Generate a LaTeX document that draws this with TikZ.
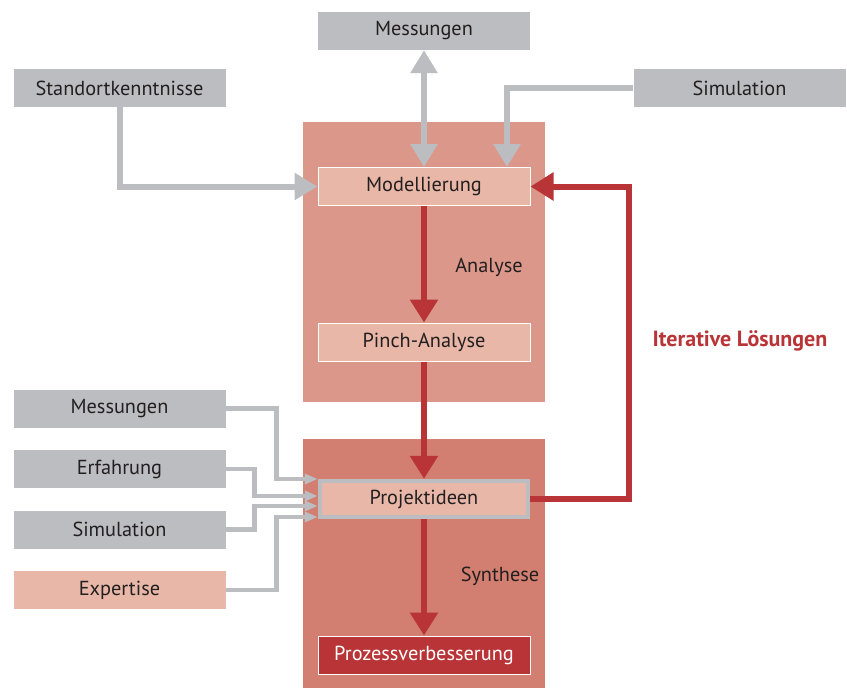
\documentclass[tikz,border=0pt]{standalone}
\usepackage{fontspec}
\setmainfont{PT Sans}
\usetikzlibrary{arrows.meta}
\definecolor{boxgray}{HTML}{BCBDC0}
\definecolor{boxpink}{HTML}{E8B7A8}
\definecolor{analysebg}{HTML}{DB978A}
\definecolor{synthbg}{HTML}{D27E70}
\definecolor{darkred}{HTML}{B93436}
\definecolor{txt}{HTML}{231F20}
\tikzset{
  basebox/.style={rectangle, minimum width=212pt, minimum height=38pt, inner sep=0pt,
    font=\fontsize{20.3}{23}\selectfont, text=txt},
  graybox/.style={basebox, fill=boxgray},
  pinkbox/.style={basebox, fill=boxpink},
  stagebox/.style={basebox, fill=boxpink, draw=white, line width=1pt},
  ideabox/.style={basebox, fill=boxpink, draw=boxgray, line width=4.5pt, minimum width=208pt, minimum height=36pt},
  resultbox/.style={basebox, fill=darkred, draw=white, line width=1pt, text=white},
  grayflow/.style={draw=boxgray, line width=6pt, -{Triangle[length=23pt,width=26pt]}},
  grayboth/.style={draw=boxgray, line width=6pt, {Triangle[length=23pt,width=26pt]}-{Triangle[length=23pt,width=26pt]}},
  grayin/.style={draw=boxgray, line width=4.5pt, -{Triangle[length=13pt,width=10pt]}},
  redflow/.style={draw=darkred, line width=6pt, -{Triangle[length=23pt,width=27pt]}},
  steplabel/.style={font=\fontsize{20.3}{23}\selectfont, text=txt},
}
\begin{document}
\begin{tikzpicture}[x=1pt,y=-1pt]
\useasboundingbox (0,0) rectangle (847,688);

% phase backgrounds
\fill[analysebg] (303,122) rectangle (545,402);
\fill[synthbg] (303,439) rectangle (545,688);

% input boxes
\node[graybox] (mtop) at (424,31) {Messungen};
\node[graybox] (std) at (119.5,88) {Standortkenntnisse};
\node[graybox] (simtop) at (739.5,88) {Simulation};
\node[graybox] (mess) at (119.5,408.5) {Messungen};
\node[graybox] (erf) at (119.5,469) {Erfahrung};
\node[graybox] (sim) at (119.5,529.5) {Simulation};
\node[pinkbox] (exp) at (119.5,590) {Expertise};

% process steps
\node[stagebox] (model) at (424,186.5) {Modellierung};
\node[stagebox] (pinch) at (424,342) {Pinch-Analyse};
\node[ideabox] (proj) at (424,499) {Projektideen};
\node[resultbox] (proz) at (424,655) {Prozessverbesserung};

% phase labels
\node[steplabel] (lana) at (489,267) {Analyse};
\node[steplabel] (lsyn) at (500,576) {Synthese};
\node[font=\bfseries\fontsize{22}{25}\selectfont, text=darkred] (liter) at (740,341) {Iterative Lösungen};

% inputs to the modelling step
\draw[grayboth] (mtop.south) -- (model.north);
\draw[grayflow] (std.south) |- (model.west);
\draw[grayflow] (simtop.west) -| ([xshift=83pt]model.north);

% main chain
\draw[redflow] (model.south) -- (pinch.north);
\draw[redflow] (pinch.south) -- (proj.north);
\draw[redflow] (proj.south) -- (proz.north);

% feedback loop
\draw[redflow] (proj.east) -- ++(99,0) |- (model.east);

% inputs to the project ideas
\draw[grayin] (mess.east) -- ++(51,0) |- ([yshift=20pt]proj.west);
\draw[grayin] (erf.east) -- ++(29,0) |- ([yshift=3pt]proj.west);
\draw[grayin] (sim.east) -- ++(29,0) |- ([yshift=-7pt]proj.west);
\draw[grayin] (exp.east) -- ++(51,0) |- ([yshift=-18pt]proj.west);
\end{tikzpicture}
\end{document}
